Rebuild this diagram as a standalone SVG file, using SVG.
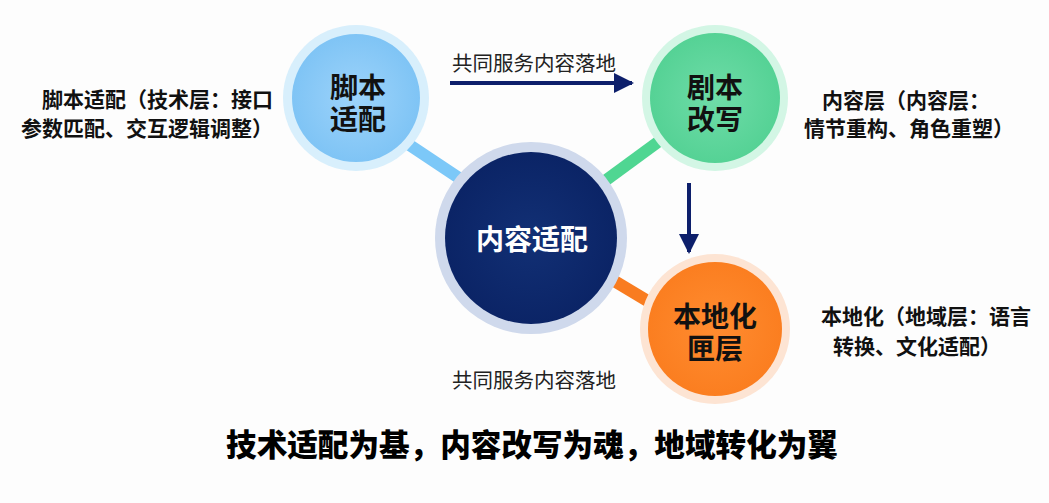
<svg xmlns="http://www.w3.org/2000/svg" width="1049" height="503" viewBox="0 0 1049 503">
<style>
text{font-family:"Noto Sans CJK SC","Noto Sans",sans-serif;dominant-baseline:central}
.node{font-size:28px;font-weight:700;text-anchor:middle;fill:#111}
.side{font-size:21px;font-weight:700;fill:#111}
.lab{font-size:20.5px;font-weight:400;fill:#222}
.title{font-size:30.6px;font-weight:900;fill:#000;text-anchor:middle}
.link{stroke-width:12;stroke-linecap:butt}
.arrow{stroke:#0d1f6b;stroke-width:4;fill:none}
</style>
<defs>
<radialGradient id="gBlue" cx="0.5" cy="0.5" r="0.5"><stop offset="0" stop-color="#9dd3fa"/><stop offset="1" stop-color="#7fc4f5"/></radialGradient>
<radialGradient id="gGreen" cx="0.5" cy="0.5" r="0.5"><stop offset="0" stop-color="#6fdca8"/><stop offset="1" stop-color="#55d295"/></radialGradient>
<radialGradient id="gNavy" cx="0.5" cy="0.5" r="0.5"><stop offset="0" stop-color="#123075"/><stop offset="1" stop-color="#0b2466"/></radialGradient>
<radialGradient id="gOrange" cx="0.5" cy="0.5" r="0.5"><stop offset="0" stop-color="#ff8c30"/><stop offset="1" stop-color="#fb7e20"/></radialGradient>
<marker id="ah" viewBox="0 0 10 10" refX="9" refY="5" markerWidth="5" markerHeight="5" orient="auto" markerUnits="strokeWidth"><path d="M0,0 L10,5 L0,10 Z" fill="#0d1f6b"/></marker>
</defs>
<rect width="1049" height="503" fill="#fdfdfd"/>
<g id="connectors">
<line class="link" x1="405" y1="142" x2="465" y2="182" stroke="#7cc8f8"/>
<line class="link" x1="598" y1="186" x2="658" y2="142" stroke="#4fd692"/>
<line class="link" x1="606" y1="276" x2="656" y2="306" stroke="#f97c20"/>
<line class="arrow" x1="450" y1="83" x2="632" y2="83" marker-end="url(#ah)"/>
<line class="arrow" x1="689" y1="183" x2="689" y2="252" marker-end="url(#ah)"/>
<text class="lab" x="534" y="62" text-anchor="middle">共同服务内容落地</text>
<text class="lab" x="534" y="379" text-anchor="middle">共同服务内容落地</text>
</g>
<g id="node-script">
<circle cx="356" cy="98" r="73" fill="#d8effc"/>
<circle cx="356" cy="98" r="64" fill="url(#gBlue)"/>
<text class="node"><tspan x="358" y="86">脚本</tspan><tspan x="358" y="118">适配</tspan></text>
</g>
<g id="node-rewrite">
<circle cx="715" cy="98" r="73" fill="#d3f6e5"/>
<circle cx="715" cy="98" r="65" fill="url(#gGreen)"/>
<text class="node"><tspan x="715" y="86">剧本</tspan><tspan x="715" y="118">改写</tspan></text>
</g>
<g id="node-content">
<circle cx="531" cy="238" r="96" fill="#cfd9ec"/>
<circle cx="531" cy="238" r="86" fill="url(#gNavy)"/>
<text class="node" x="532" y="238" style="fill:#fff">内容适配</text>
</g>
<g id="node-local">
<circle cx="715" cy="329" r="75" fill="#fde4d3"/>
<circle cx="715" cy="329" r="67" fill="url(#gOrange)"/>
<text class="node"><tspan x="715" y="315">本地化</tspan><tspan x="715" y="347">匣层</tspan></text>
</g>
<g id="text-left">
<text class="side"><tspan x="42" y="98">脚本适配（技术层：接口</tspan><tspan x="21" y="127">参数匹配、交互逻辑调整）</tspan></text>
</g>
<g id="text-right">
<text class="side"><tspan x="822" y="99">内容层（内容层：</tspan><tspan x="804" y="127">情节重构、角色重塑）</tspan></text>
</g>
<g id="text-local">
<text class="side"><tspan x="821" y="315">本地化（地域层：语言</tspan><tspan x="833" y="345">转换、文化适配）</tspan></text>
</g>
<text class="title" x="532" y="443">技术适配为基，内容改写为魂，地域转化为翼</text>
</svg>
